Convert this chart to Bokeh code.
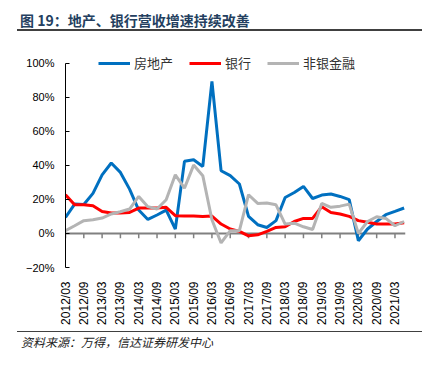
import math
from bokeh.plotting import figure
from bokeh.models import Range1d, FixedTicker, Div, Legend
from bokeh.layouts import column
from bokeh.embed import file_html
from bokeh.resources import INLINE

quarters = [
    "2012/03", "2012/06", "2012/09", "2012/12",
    "2013/03", "2013/06", "2013/09", "2013/12",
    "2014/03", "2014/06", "2014/09", "2014/12",
    "2015/03", "2015/06", "2015/09", "2015/12",
    "2016/03", "2016/06", "2016/09", "2016/12",
    "2017/03", "2017/06", "2017/09", "2017/12",
    "2018/03", "2018/06", "2018/09", "2018/12",
    "2019/03", "2019/06", "2019/09", "2019/12",
    "2020/03", "2020/06", "2020/09", "2020/12",
    "2021/03", "2021/06",
]

real_estate = [9.4, 17.2, 17.0, 23.5, 34.4, 41.3, 35.8, 26.0,
               13.7, 8.2, 10.8, 13.7, 2.6, 42.3, 43.2, 39.3,
               89.2, 36.8, 33.9, 29.0, 10.0, 5.1, 3.5, 7.5,
               21.1, 24.0, 27.6, 20.5, 22.5, 23.1, 21.7, 19.8,
               -4.3, 2.6, 7.0, 11.0, 12.9, 14.9]

banks = [22.7, 16.8, 16.8, 16.3, 12.9, 12.0, 12.0, 12.3,
         14.9, 14.9, 14.9, 15.3, 10.4, 10.2, 10.2, 10.0,
         10.2, 5.5, 2.6, 1.2, -1.4, -0.8, 1.2, 3.5,
         3.9, 7.0, 8.8, 8.8, 15.7, 12.3, 11.4, 10.0,
         7.5, 6.5, 5.5, 5.5, 5.5, 6.2]

non_bank = [1.6, 4.5, 7.5, 8.0, 9.0, 11.4, 12.7, 14.3,
            21.7, 15.7, 14.3, 19.8, 34.4, 26.6, 40.1, 33.9,
            8.0, -5.6, 1.6, 1.6, 22.7, 17.6, 17.8, 16.8,
            5.5, 6.0, 3.9, 2.3, 17.6, 15.3, 16.0, 17.2,
            0.0, 7.0, 9.8, 8.8, 4.5, 7.0]

series_names = ["房地产", "银行", "非银金融"]
series_colors = ["#0070C0", "#FF0000", "#B4B4B4"]
y_ticks = [-20, 0, 20, 40, 60, 80, 100]
y_tick_labels = ["\u221220%", "0%", "20%", "40%", "60%", "80%", "100%"]

title_text = "图 19：地产、银行营收增速持续改善"
source_text = "资料来源：万得，信达证券研发中心"

idx = list(range(len(quarters)))
label_idx = idx[::2]
x_end = len(quarters) - 1 + 0.15

p = figure(width=415, height=300, output_backend="svg", toolbar_location=None,
           x_range=Range1d(0, x_end), y_range=Range1d(-20, 105),
           min_border_left=57, min_border_right=18, min_border_top=23, min_border_bottom=64)
p.outline_line_color = None
p.xgrid.grid_line_color = None
p.ygrid.grid_line_color = None

# zero line with tick marks
p.line(x=[0, x_end], y=[0, 0], line_color="#808080", line_width=2)
p.segment(x0=label_idx, y0=[0] * len(label_idx), x1=label_idx, y1=[-2.8] * len(label_idx),
          line_color="#808080", line_width=1.5)

renderers = []
for vals, name, col in zip([real_estate, banks, non_bank], series_names, series_colors):
    r = p.line(x=idx, y=vals, line_color=col, line_width=3)
    renderers.append((name, [r]))

legend = Legend(items=renderers, orientation="horizontal", location=(33, 195))
legend.glyph_width = 32
legend.glyph_height = 16
legend.label_height = 16
legend.label_standoff = 4
legend.spacing = 16
legend.padding = 0
legend.margin = 0
legend.border_line_color = None
legend.background_fill_alpha = 0
legend.label_text_font = "Noto Sans CJK SC"
legend.label_text_font_size = "13px"
legend.label_text_color = "#333333"
p.add_layout(legend, "center")

# x axis
p.xaxis.ticker = FixedTicker(ticks=label_idx)
p.xaxis.major_label_overrides = {i: quarters[i] for i in label_idx}
p.xaxis.major_label_orientation = math.pi / 2
p.xaxis.axis_line_color = None
p.xaxis.major_tick_line_color = None
p.xaxis.minor_tick_line_color = None
p.xaxis.major_label_standoff = 8
p.xaxis.major_label_text_font = "Liberation Sans"
p.xaxis.major_label_text_font_size = "12px"
p.xaxis.major_label_text_color = "#000000"

# y axis
p.yaxis.ticker = FixedTicker(ticks=y_ticks)
p.yaxis.bounds = (-20, 100)
p.yaxis.major_label_overrides = dict(zip(y_ticks, y_tick_labels))
p.yaxis.axis_line_color = "#000000"
p.yaxis.major_tick_in = 4
p.yaxis.major_tick_out = 0
p.yaxis.minor_tick_line_color = None
p.yaxis.major_label_standoff = 11
p.yaxis.major_label_text_font = "Liberation Sans"
p.yaxis.major_label_text_font_size = "11px"
p.yaxis.major_label_text_color = "#000000"

title_div = Div(text=title_text, width=405, height=23, margin=(0, 0, 0, 9),
                styles={"font-family": "Noto Sans CJK SC", "font-weight": "bold",
                        "font-size": "14px", "color": "#243F60",
                        "border-bottom": "2px solid #404040",
                        "padding-left": "3px", "line-height": "25px",
                        "box-sizing": "border-box"})
source_div = Div(text=source_text, width=405, height=20, margin=(0, 0, 0, 9),
                 styles={"font-family": "Noto Sans CJK SC", "font-style": "italic",
                         "font-size": "12px", "color": "#222222",
                         "border-top": "1.5px solid #404040",
                         "padding-left": "4px", "line-height": "20px",
                         "box-sizing": "border-box"})

layout = column(title_div, p, source_div, spacing=0, margin=(8, 0, 0, 8))

open("out.html", "w").write(file_html(layout, INLINE))
